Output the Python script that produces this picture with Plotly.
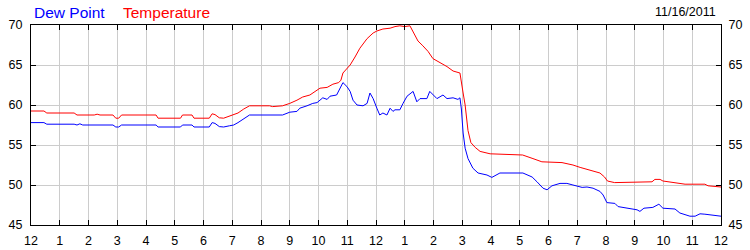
import plotly.graph_objects as go

# Hours since midnight (0..24) and readings
temp_hours = [0.0, 0.45, 0.55, 1.5, 1.6, 2.2, 2.3, 2.4, 2.85, 2.95, 3.05, 3.15, 4.35, 4.42, 5.2, 5.27,
              5.6, 5.67, 6.2, 6.3, 6.4, 6.55, 6.7, 6.9, 7.05, 7.2, 7.4, 7.6, 8.3, 8.4, 8.75, 9.0,
              9.25, 9.45, 9.7, 9.9, 10.05, 10.3, 10.5, 10.7, 10.78, 10.85, 11.0, 11.1, 11.27, 11.44,
              11.69, 11.9, 12.03, 12.24, 12.49, 12.66, 12.83, 13.0, 13.18, 13.29, 13.46, 13.63,
              13.81, 13.98, 14.23, 14.47, 14.68, 14.92, 15.03, 15.1, 15.2, 15.3, 15.45, 15.62,
              15.97, 17.1, 17.46, 17.77, 18.47, 18.85, 19.1, 19.44, 19.79, 19.95, 20.05, 20.3,
              21.6, 21.7, 21.88, 21.98, 22.4, 22.75, 23.44, 23.55, 24.0]
temperature = [59.25, 59.25, 59.0, 59.0, 58.75, 58.75, 58.85, 58.75, 58.75, 58.35, 58.35, 58.75, 58.75,
               58.35, 58.35, 58.75, 58.75, 58.35, 58.35, 58.9, 58.8, 58.4, 58.35, 58.6, 58.75, 59.0,
               59.5, 59.9, 59.9, 59.8, 59.9, 60.2, 60.6, 61.0, 61.25, 61.7, 62.1, 62.2, 62.6, 62.8,
               63.1, 64.0, 64.6, 65.0, 66.0, 67.1, 68.3, 69.0, 69.25, 69.5, 69.6, 69.8, 69.9, 69.8,
               69.9, 69.2, 68.0, 67.4, 66.7, 65.8, 65.3, 64.8, 64.25, 64.0, 61.5, 60.0, 56.8, 55.3,
               54.7, 54.2, 53.9, 53.75, 53.3, 52.9, 52.8, 52.5, 52.2, 51.9, 51.5, 51.0, 50.5, 50.3,
               50.4, 50.7, 50.7, 50.5, 50.3, 50.1, 50.1, 49.9, 49.75]

dew_hours = [0.0, 0.45, 0.55, 1.5, 1.6, 1.7, 1.8, 2.85, 2.95, 3.05, 3.15, 4.35, 4.42, 5.2, 5.27, 5.6,
             5.67, 6.2, 6.3, 6.4, 6.55, 6.7, 6.9, 7.05, 7.2, 7.4, 7.6, 8.75, 9.0, 9.25, 9.35, 9.6,
             9.8, 9.95, 10.05, 10.15, 10.3, 10.4, 10.63, 10.75, 10.85, 10.99, 11.1, 11.2, 11.34,
             11.55, 11.69, 11.79, 11.9, 12.03, 12.13, 12.24, 12.38, 12.49, 12.59, 12.66, 12.83,
             12.94, 13.08, 13.29, 13.42, 13.53, 13.77, 13.87, 13.98, 14.12, 14.33, 14.47, 14.68,
             14.85, 14.92, 14.97, 15.03, 15.1, 15.2, 15.27, 15.37, 15.55, 15.86, 16.03, 16.31,
             17.11, 17.43, 17.6, 17.81, 17.95, 18.12, 18.4, 18.64, 18.85, 19.17, 19.34, 19.55,
             19.79, 19.9, 20.03, 20.31, 20.42, 20.59, 20.94, 21.08, 21.18, 21.32, 21.63, 21.84,
             21.98, 22.4, 22.57, 22.92, 23.1, 23.27, 23.44, 23.72, 24.0]
dew_point = [57.8, 57.8, 57.6, 57.6, 57.5, 57.65, 57.5, 57.5, 57.25, 57.25, 57.5, 57.5, 57.25, 57.25,
             57.5, 57.5, 57.25, 57.25, 57.8, 57.7, 57.3, 57.25, 57.4, 57.5, 57.8, 58.3, 58.75, 58.75,
             59.1, 59.2, 59.6, 59.9, 60.2, 60.3, 60.6, 60.9, 60.7, 61.1, 61.25, 62.1, 62.8, 62.3,
             61.7, 60.6, 60.0, 59.9, 60.2, 61.5, 60.8, 59.6, 58.75, 59.0, 58.75, 59.6, 59.2, 59.4,
             59.4, 60.2, 61.1, 61.7, 60.4, 60.8, 60.8, 61.7, 61.25, 60.8, 61.25, 60.8, 60.9, 60.7,
             60.9, 59.5, 56.5, 54.6, 53.3, 52.8, 52.1, 51.5, 51.25, 50.95, 51.5, 51.5, 51.0, 50.4,
             49.6, 49.4, 49.9, 50.2, 50.2, 50.0, 49.7, 49.75, 49.6, 49.2, 48.75, 47.8, 47.7, 47.3,
             47.2, 46.9, 46.9, 46.7, 47.1, 47.2, 47.6, 47.1, 47.0, 46.5, 46.1, 46.1, 46.4, 46.35,
             46.25, 46.1]

x_tick_vals = list(range(0, 25))
x_tick_text = ["12", "1", "2", "3", "4", "5", "6", "7", "8", "9", "10", "11",
               "12", "1", "2", "3", "4", "5", "6", "7", "8", "9", "10", "11", "12"]
y_tick_vals = [45, 50, 55, 60, 65, 70]
date_label = "11/16/2011"

FONT = "Liberation Sans, Arial, sans-serif"
GRID = "#cccccc"

fig = go.Figure()
fig.add_trace(go.Scatter(x=dew_hours, y=dew_point, mode="lines", name="Dew Point",
                         line=dict(color="#0000ff", width=1), yaxis="y"))
fig.add_trace(go.Scatter(x=temp_hours, y=temperature, mode="lines", name="Temperature",
                         line=dict(color="#ff0000", width=1), yaxis="y2"))

fig.update_layout(
    width=750, height=250,
    margin=dict(l=31, r=29, t=25, b=25, pad=0, autoexpand=False),
    paper_bgcolor="white", plot_bgcolor="white",
    showlegend=False,
    font=dict(family=FONT, size=12, color="black"),
    xaxis=dict(range=[0, 24], tickvals=x_tick_vals, ticktext=x_tick_text,
               showgrid=True, gridcolor=GRID, gridwidth=1, automargin=False,
               showline=True, linecolor="black", linewidth=1, mirror="ticks",
               ticks="inside", ticklen=5, tickcolor="black", tickwidth=1,
               zeroline=False, ticklabelstandoff=4,
               tickfont=dict(family=FONT, size=12.5, color="black")),
    yaxis=dict(range=[45, 70], tickvals=y_tick_vals, automargin=False,
               showgrid=True, gridcolor=GRID, gridwidth=1,
               showline=True, linecolor="black", linewidth=1,
               ticks="inside", ticklen=5, tickcolor="black", tickwidth=1,
               zeroline=False, ticklabelstandoff=5,
               tickfont=dict(family=FONT, size=12.5, color="black")),
    yaxis2=dict(range=[45, 70], tickvals=y_tick_vals, matches="y", overlaying="y", side="right",
                showgrid=False, automargin=False,
                showline=True, linecolor="black", linewidth=1,
                ticks="inside", ticklen=5, tickcolor="black", tickwidth=1,
                zeroline=False, ticklabelstandoff=4,
                tickfont=dict(family=FONT, size=12.5, color="black")),
    annotations=[
        dict(text="Dew Point", xref="paper", yref="paper", x=0, xshift=1, y=1.065,
             xanchor="left", yanchor="middle", showarrow=False,
             font=dict(family=FONT, size=15.5, color="#0000ff")),
        dict(text="Temperature", xref="paper", yref="paper", x=0, xshift=90, y=1.065,
             xanchor="left", yanchor="middle", showarrow=False,
             font=dict(family=FONT, size=15.5, color="#ff0000")),
        dict(text=date_label, xref="paper", yref="paper", x=1, xshift=-3, y=1.065,
             xanchor="right", yanchor="middle", showarrow=False,
             font=dict(family=FONT, size=12.5, color="black")),
    ],
)

fig.write_html("out.html")
